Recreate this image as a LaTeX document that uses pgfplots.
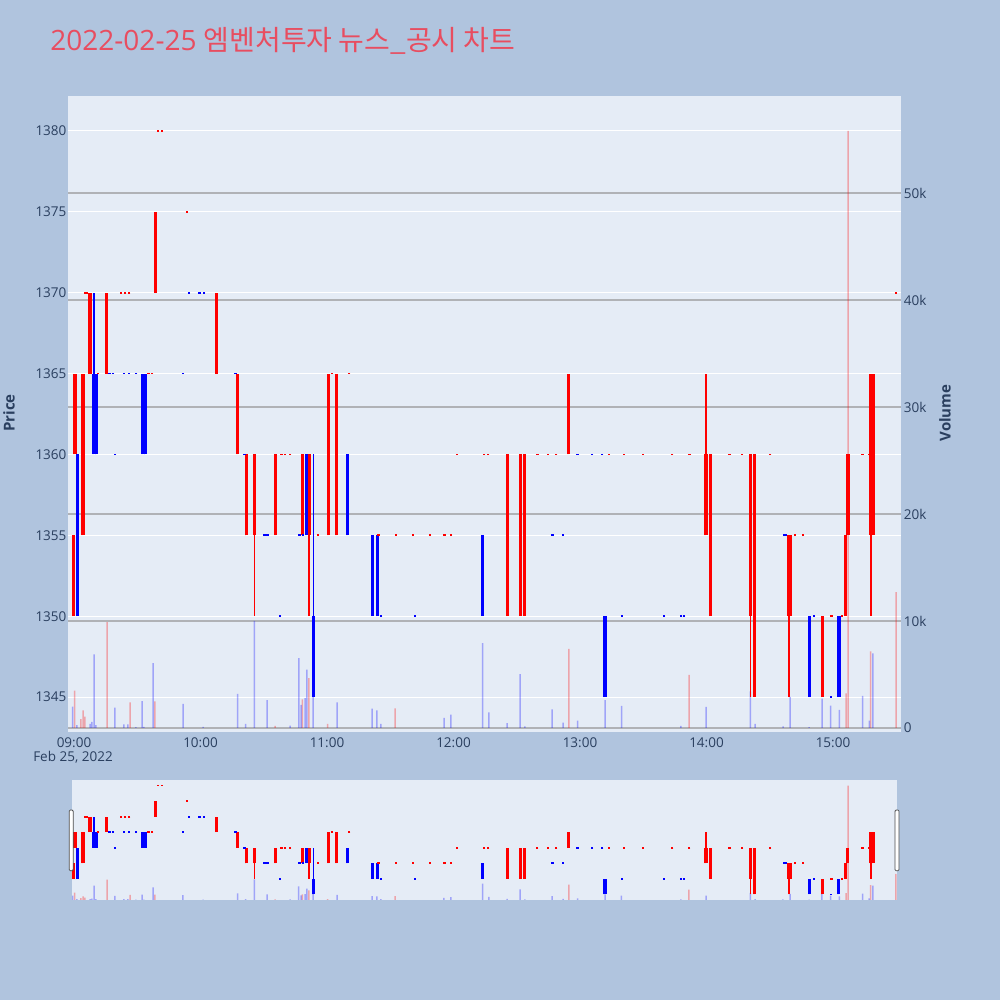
\documentclass[border=0pt]{standalone}
\usepackage{pgfplots}
\pgfplotsset{compat=1.18}
\usepackage{pgfplotstable}
\usepackage{fontspec}
\setmainfont{Open Sans}
\newfontfamily\kr{Noto Sans CJK KR}
\definecolor{pagebg}{HTML}{B0C4DE}
\definecolor{plotbg}{HTML}{E5ECF6}
\definecolor{txt}{HTML}{2A3F5F}
\definecolor{ttl}{HTML}{E84D60}
\definecolor{vgrid}{HTML}{B0B2B6}
\definecolor{cred}{HTML}{FF0000}
\definecolor{cblue}{HTML}{0000FF}

% candles: t = minutes after 09:00, lo/hi = body, l/h = wick
\pgfplotstableread{
t lo hi l h
-0.24 1350 1355 1350 1355
0.47 1360 1365 1360 1365
4.27 1355 1365 1355 1365
7.6 1365 1370 1365 1370
15.6 1365 1370 1365 1370
38.6 1370 1375 1370 1375
67.6 1365 1370 1365 1370
77.7 1360 1365 1360 1365
81.7 1355 1360 1355 1360
85.6 1355 1360 1350 1360
95.7 1355 1360 1355 1360
108.5 1355 1360 1355 1360
111.6 1355 1360 1350 1360
120.7 1355 1365 1355 1365
124.6 1355 1365 1355 1365
205.7 1350 1360 1350 1360
211.8 1350 1360 1350 1360
213.7 1350 1360 1350 1360
234.7 1360 1365 1360 1365
299.8 1355 1360 1355 1365
301.8 1350 1360 1350 1360
320.9 1350 1360 1345 1360
322.8 1345 1360 1345 1360
339.0 1350 1355 1345 1355
339.9 1350 1355 1350 1355
354.9 1345 1350 1345 1350
365.8 1350 1355 1350 1355
367.1 1355 1360 1355 1360
378.0 1355 1365 1350 1365
379.0 1355 1365 1355 1365
}\redC
\pgfplotstableread{
t lo hi l h
1.57 1350 1360 1350 1360
9.4 1360 1365 1360 1370
10.6 1360 1365 1360 1365
32.6 1360 1365 1360 1365
33.8 1360 1365 1360 1365
110.5 1355 1360 1355 1360
113.6 1345 1350 1345 1360
129.7 1355 1360 1355 1360
141.7 1350 1355 1350 1355
143.8 1350 1355 1350 1355
193.8 1350 1355 1350 1355
251.9 1345 1350 1345 1350
348.9 1345 1350 1345 1350
362.8 1345 1350 1345 1350
}\blueC
% flat candles (open = close)
\pgfplotstableread{
t p
5.2 1370
6.0 1370
11.3 1365
22.3 1370
24.3 1370
26.2 1370
35.3 1365
37.0 1365
39.7 1380
41.6 1380
53.5 1375
98.4 1360
100.1 1360
102.5 1360
115.7 1355
122.2 1365
130.6 1365
144.4 1355
152.6 1355
160.7 1355
168.7 1355
175.7 1355
178.7 1355
181.7 1360
194.6 1360
196.5 1360
219.8 1360
224.7 1360
228.8 1360
253.6 1360
260.8 1360
269.8 1360
283.8 1360
291.9 1360
310.9 1360
316.9 1360
330.2 1360
341.9 1355
345.8 1355
359.3 1350
364.2 1350
374.0 1360
377.1 1360
389.9 1370
}\redD
\pgfplotstableread{
t p
16.8 1365
18.5 1365
19.4 1360
23.6 1365
26.0 1365
29.4 1365
51.6 1365
54.4 1370
59.5 1370
61.6 1370
76.6 1365
80.9 1360
90.4 1355
91.8 1355
97.6 1350
107.0 1355
108.6 1355
145.6 1350
161.6 1350
227.0 1355
231.8 1355
238.8 1360
245.7 1360
250.6 1360
259.8 1350
279.8 1350
288.0 1350
289.3 1350
336.8 1355
337.6 1355
350.9 1350
359.0 1345
}\blueD
% volumes
\pgfplotstableread{
t v
0.3 3500
3.3 840
4.3 1640
5.2 1070
15.7 9900
26.6 2400
38.4 2480
95.4 190
108.3 2670
111.4 4650
120.3 380
152.3 1830
234.7 7400
291.7 4960
366.2 3240
367.2 55800
377.9 7170
389.9 12700
}\redV
\pgfplotstableread{
t v
-0.6 2000
1.4 270
7.6 380
8.5 570
9.5 6870
10.4 270
19.4 1900
23.7 340
25.6 340
29.4 80
32.3 2500
33.2 100
37.5 6070
51.7 2250
61.2 100
77.6 3200
81.4 380
85.6 10000
91.6 2600
102.5 230
106.6 6530
107.7 2150
109.6 2800
110.5 5450
113.4 3000
124.8 2400
141.4 1800
143.7 1640
145.6 380
175.5 950
178.8 1260
193.8 7940
196.8 1450
205.4 460
211.6 5040
213.9 150
226.8 1750
232.0 500
238.9 690
251.9 2600
259.7 2060
287.9 200
299.8 1980
320.8 3430
323.1 380
336.3 150
339.7 2900
348.7 80
354.8 2750
358.9 2100
363.0 1700
374.1 3000
377.2 690
378.9 6970
}\blueV

\newcommand\candleset[2]{% table, colour
 \addplot[draw=none, forget plot, error bars/.cd, y dir=plus, y explicit, error mark=none,
   error bar style={draw=#2, line width=0.85pt, solid}]
   table[x=t, y=l, y error plus expr=\thisrow{h}-\thisrow{l}] {#1};
 \addplot[draw=none, forget plot, error bars/.cd, y dir=plus, y explicit, error mark=none,
   error bar style={draw=#2, line width=1.6pt, solid}]
   table[x=t, y=lo, y error plus expr=\thisrow{hi}-\thisrow{lo}] {#1};
}
\newcommand\dojiset[2]{%
 \addplot[only marks, forget plot, mark=-, mark size=0.55pt, mark options={draw=#2, line width=0.9pt, solid}]
   table[x=t, y=p] {#1};
}
\newcommand\drawcandles{%
 \dojiset{\blueD}{cblue}
 \dojiset{\redD}{cred}
 \candleset{\blueC}{cblue}
 \candleset{\redC}{cred}
}
\newcommand\drawvolume{%
 \addplot[ybar, bar width=0.75pt, /pgf/bar shift=0pt, fill=cred, fill opacity=0.3, draw=none, forget plot] table[x=t, y=v] {\redV};
 \addplot[ybar, bar width=0.75pt, /pgf/bar shift=0pt, fill=cblue, fill opacity=0.3, draw=none, forget plot] table[x=t, y=v] {\blueV};
}

\pgfplotsset{
 base/.style={scale only axis, anchor=south west, tick style={draw=none}, axis line style={draw=none}, scaled ticks=false},
 mainx/.style={base, at={(34pt,134pt)}, width=416.5pt, height=318pt, xmin=-2.846, xmax=392.26},
 slidx/.style={base, at={(36pt,50pt)}, width=412.5pt, height=60pt, xmin=-0.95, xmax=390.4},
 tl/.style={ticklabel style={font=\fontsize{6.75}{8}\selectfont, text=txt}},
}

\begin{document}
\begin{tikzpicture}
\useasboundingbox (0,0) rectangle (500pt,500pt);
\fill[pagebg] (0,0) rectangle (500pt,500pt);

% price axis: background, white grid, labels
\begin{axis}[mainx, tl, ymin=1342.84, ymax=1382.16,
  axis background/.style={fill=plotbg},
  ymajorgrids, grid style={draw=white, line width=0.5pt},
  xtick={0,60,120,180,240,300,360},
  xticklabels={09:00,10:00,11:00,12:00,13:00,14:00,15:00},
  xticklabel style={anchor=north, inner sep=0pt, yshift=-2.5pt},
  ytick={1345,1350,1355,1360,1365,1370,1375,1380},
  yticklabels={1345,1350,1355,1360,1365,1370,1375,1380},
  yticklabel style={anchor=east, inner sep=0pt, xshift=-0.6pt}]
 \addplot[draw=none] coordinates {(0,1360)};
\end{axis}

% volume axis: grey grid, right labels, bars
\begin{axis}[mainx, tl, ymin=-374, ymax=59065,
  xtick=\empty,
  ymajorgrids, grid style={draw=vgrid, line width=0.65pt},
  ytick={0,10000,20000,30000,40000,50000},
  yticklabels={0,10k,20k,30k,40k,50k},
  yticklabel pos=right,
  yticklabel style={anchor=west, inner sep=0pt, xshift=1.2pt}]
 \drawvolume
\end{axis}

% candles
\begin{axis}[mainx, hide axis, ymin=1342.84, ymax=1382.16]
 \drawcandles
\end{axis}

% range slider
\begin{axis}[slidx, ymin=-100, ymax=58600, ticks=none,
  axis background/.style={fill=plotbg}]
 \drawvolume
\end{axis}
\begin{axis}[slidx, hide axis, ymin=1343.2, ymax=1381.8]
 \drawcandles
\end{axis}

\draw[fill=white, draw=black!70, line width=0.4pt, rounded corners=0.6pt] (34.6pt,64.6pt) rectangle (36.6pt,95pt);
\draw[fill=white, draw=black!70, line width=0.4pt, rounded corners=0.6pt] (447.5pt,64.6pt) rectangle (449.5pt,95pt);

% texts
\node[anchor=base west, inner sep=0pt, text=ttl, font=\fontsize{14}{16}\selectfont] at (25pt,474.5pt)
  {2022-02-25 {\kr 엠벤처투자 뉴스\_공시 차트}};
\node[inner sep=0pt, text=txt, font=\fontsize{6.75}{8}\selectfont] at (36.5pt,121.25pt) {Feb 25, 2022};
\node[inner sep=0pt, text=txt, font=\bfseries\fontsize{7.5}{9}\selectfont, rotate=90] at (4.5pt,293.5pt) {Price};
\node[inner sep=0pt, text=txt, font=\bfseries\fontsize{7.5}{9}\selectfont, rotate=90] at (472.5pt,293.5pt) {Volume};
\end{tikzpicture}
\end{document}
